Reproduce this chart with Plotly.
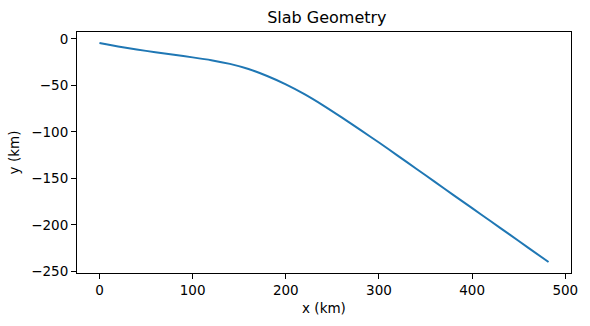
import plotly.graph_objects as go

# Slab surface profile: horizontal distance vs depth (km)
x_km = [0, 20, 40, 60, 80, 100, 120, 140, 160, 180, 200, 220, 240, 260,
        280, 300, 320, 340, 360, 380, 400, 420, 440, 460, 482]
y_km = [-4.5, -8.3, -11.5, -14.5, -17.3, -20, -23, -27, -32.5, -40, -49,
        -59.5, -71.5, -84.5, -98, -111.5, -125.6, -139.7, -153.8, -168,
        -182.1, -196.2, -210.3, -224.5, -240]

x_ticks = [0, 100, 200, 300, 400, 500]
y_ticks = [0, -50, -100, -150, -200, -250]


def padded(vals, frac=0.05):
    lo, hi = min(vals), max(vals)
    pad = (hi - lo) * frac
    return [lo - pad, hi + pad]


font = dict(family="DejaVu Sans", size=13.5, color="black")

fig = go.Figure(
    go.Scatter(x=x_km, y=y_km, mode="lines", line_shape="spline",
               line=dict(color="#1f77b4", width=2, smoothing=0.6),
               showlegend=False)
)

axis_common = dict(
    showgrid=False, zeroline=False, showline=True, mirror=True,
    linecolor="black", linewidth=1.1, ticks="outside", ticklen=5,
    tickwidth=1.1, tickcolor="black", tickfont=font,
)

fig.update_layout(
    width=590, height=326,
    margin=dict(l=77, r=17, t=32, b=53),
    paper_bgcolor="white", plot_bgcolor="white",
    font=font,
    title=dict(text="Slab Geometry", x=0.554, xanchor="center",
               y=0.948, yanchor="middle",
               font=dict(family="DejaVu Sans", size=16, color="black")),
    xaxis=dict(range=padded(x_km), tickvals=x_ticks,
               title=dict(text="x (km)", font=font, standoff=6),
               **axis_common),
    yaxis=dict(range=padded(y_km), tickvals=y_ticks,
               title=dict(text="y (km)", font=font, standoff=8),
               **axis_common),
)

fig.write_html("out.html")
